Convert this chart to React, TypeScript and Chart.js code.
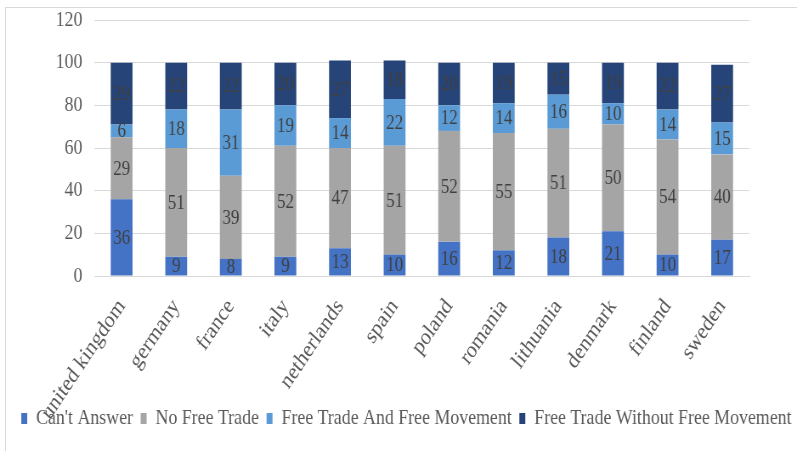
import React, { useEffect, useRef } from 'react';
import { Chart, registerables } from 'chart.js';

Chart.register(...registerables);

const categories = ['united kingdom', 'germany', 'france', 'italy', 'netherlands', 'spain', 'poland', 'romania', 'lithuania', 'denmark', 'finland', 'sweden'];
const cantAnswer = [36, 9, 8, 9, 13, 10, 16, 12, 18, 21, 10, 17];
const noFreeTrade = [29, 51, 39, 52, 47, 51, 52, 55, 51, 50, 54, 40];
const freeTradeAndMovement = [6, 18, 31, 19, 14, 22, 12, 14, 16, 10, 14, 15];
const freeTradeWithoutMovement = [29, 22, 22, 20, 27, 18, 20, 19, 15, 19, 22, 27];
const seriesNames = ["Can't Answer", 'No Free Trade', 'Free Trade And Free Movement', 'Free Trade Without Free Movement'];
const seriesColors = ['#4472C4', '#A5A5A5', '#5B9BD5', '#264478'];
const yMin = 0;
const yMax = 120;
const yStep = 20;

const FONT = "'Liberation Serif', 'Times New Roman', serif";
const CANVAS_W = 938;
const CANVAS_H = 451;
const SQUASH = 797 / CANVAS_W;

const layoutTweaks = {
  id: 'layoutTweaks',
  beforeLayout(chart: any) {
    // keep all four legend entries on a single row
    const lg = chart.legend;
    if (lg && !lg.__oneRow && typeof lg._fitRows === 'function') {
      const orig = lg._fitRows.bind(lg);
      lg._fitRows = (...args: any[]) => {
        const mw = lg.maxWidth;
        lg.maxWidth = mw + 400;
        const r = orig(...args);
        lg.maxWidth = mw;
        return r;
      };
      lg.__oneRow = true;
    }
  },
  afterLayout(chart: any) {
    // let rotated category labels overflow below the axis box (into the legend)
    const xs = chart.scales.x;
    if (xs) xs.bottom = chart.height;
    if (chart.legend) {
      chart.legend.left = 16;
      chart.legend.right = chart.width + 400;
    }
  },
};

const segmentLabels = {
  id: 'segmentLabels',
  afterDatasetsDraw(chart: any) {
    const ctx = chart.ctx;
    ctx.save();
    ctx.font = `20px ${FONT}`;
    ctx.fillStyle = '#404040';
    ctx.textAlign = 'center';
    ctx.textBaseline = 'middle';
    chart.data.datasets.forEach((ds: any, di: number) => {
      const meta = chart.getDatasetMeta(di);
      meta.data.forEach((el: any, i: number) => {
        const { x, y, base } = el.getProps(['x', 'y', 'base'], true);
        ctx.fillText(String(ds.data[i]), x, (y + base) / 2 + 1);
      });
    });
    ctx.restore();
  },
};

export default function App() {
  const canvasRef = useRef<HTMLCanvasElement | null>(null);

  useEffect(() => {
    if (!canvasRef.current) return;
    const seriesValues = [cantAnswer, noFreeTrade, freeTradeAndMovement, freeTradeWithoutMovement];
    const chart = new Chart(canvasRef.current, {
      type: 'bar',
      data: {
        labels: categories,
        datasets: seriesValues.map((vals, i) => ({
          label: seriesNames[i],
          data: vals,
          backgroundColor: seriesColors[i],
          borderWidth: 0,
          categoryPercentage: 1,
          barPercentage: 0.4,
        })),
      },
      options: {
        responsive: true,
        maintainAspectRatio: false,
        animation: false,
        devicePixelRatio: 1,
        layout: { padding: { left: 0, right: 0, top: 20, bottom: 12 } },
        plugins: {
          legend: {
            position: 'bottom',
            align: 'start',
            labels: {
              boxWidth: 7,
              boxHeight: 11,
              padding: 9,
              color: '#595959',
              font: { family: FONT, size: 21 },
            },
          },
          tooltip: { enabled: false },
        },
        scales: {
          x: {
            stacked: true,
            grid: { display: false },
            border: { display: true, color: '#d9d9d9' },
            ticks: {
              color: '#595959',
              font: { family: FONT, size: 23 },
              minRotation: 52,
              maxRotation: 52,
              autoSkip: false,
              padding: 10,
            },
            afterFit: (s: any) => { s.height = 123; },
          },
          y: {
            stacked: true,
            min: yMin,
            max: yMax,
            ticks: { stepSize: yStep, color: '#595959', font: { family: FONT, size: 21, lineHeight: 0.5 }, padding: 14 },
            grid: { color: '#d9d9d9', drawTicks: false },
            border: { display: false },
            afterFit: (s: any) => { s.width = 111; },
          },
          y2: {
            position: 'right',
            display: true,
            grid: { display: false, drawTicks: false },
            border: { display: false },
            ticks: { display: false },
            afterFit: (s: any) => { s.width = 56; },
          },
        },
      } as any,
      plugins: [layoutTweaks, segmentLabels],
    });
    return () => chart.destroy();
  }, []);

  return (
    <div style={{ position: 'absolute', left: 0, top: 0, width: 797, height: 451, overflow: 'hidden', background: '#ffffff' }}>
      <div style={{ position: 'absolute', left: 5, top: 7, width: 900, height: 600, border: '1px solid #d9d9d9', boxSizing: 'border-box' }} />
      <div style={{ position: 'absolute', left: 0, top: 0, width: CANVAS_W, height: CANVAS_H, transform: `scaleX(${SQUASH})`, transformOrigin: '0 0' }}>
        <canvas ref={canvasRef} />
      </div>
    </div>
  );
}
